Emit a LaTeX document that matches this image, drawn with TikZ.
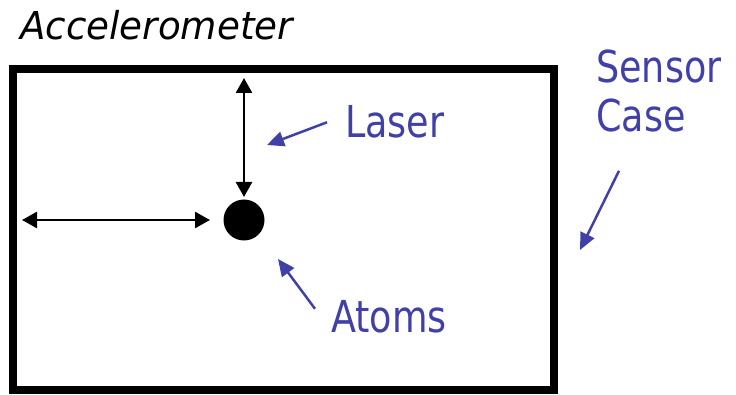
\documentclass[tikz,border=0pt]{standalone}
\usepackage{fontspec}
\setmainfont{DejaVu Sans}[FakeStretch=0.83]
\newfontfamily\headfont{DejaVu Sans}[FakeStretch=0.97]
\usetikzlibrary{arrows.meta, positioning}
\definecolor{tagblue}{RGB}{64,64,168}

\begin{document}
\begin{tikzpicture}[
    x=1pt, y=1pt,
    casebox/.style={
        rectangle, draw=black, line width=8pt,
        minimum width=541pt, minimum height=321pt,
        inner sep=0pt, outer sep=0pt,
    },
    atom/.style={
        circle, fill=black, minimum size=41pt,
        inner sep=0pt, outer sep=0pt,
    },
    tag/.style={
        font=\fontsize{44}{49}\selectfont, text=tagblue,
        inner sep=0pt, anchor=base west, align=left,
    },
    beam/.style={
        {Triangle[length=15pt, width=16pt]}-{Triangle[length=15pt, width=16pt]},
        line width=2.5pt,
    },
    pointer/.style={
        -{Triangle[length=17pt, width=15pt]}, line width=2.5pt, draw=tagblue,
        fill=tagblue,
    },
]

\useasboundingbox (0, 0) rectangle (736, 394);

% --- Sensor case and atom cloud ---
\node[casebox] (case) at (283.5, 164.5) {};
\node[atom] (atom) at (244, 174) {};

% --- Laser beams ---
\draw[beam, shorten <=9pt, shorten >=2.5pt] (case.north -| atom) -- (atom.north);
\draw[beam, shorten <=9pt, shorten >=13.5pt] (case.west |- atom) -- (atom.west);

% --- Labels ---
\node[font=\headfont\itshape\fontsize{38.4}{46}\selectfont,
      anchor=base west, inner sep=0pt] (title) at (20, 354) {Accelerometer};
\node[tag] (laser) at (345, 256) {Laser};
\node[tag] (atoms) at (331, 62) {Atoms};
\node[tag] (sensor) at (596, 262) {Sensor\\Case};

% --- Pointers ---
\coordinate (laserpt) at (267, 249);
\coordinate (atompt) at (278, 135);
\coordinate (casept) at (580, 144);
\draw[pointer] ([xshift=-18pt]laser.west) -- (laserpt);
\draw[pointer] ([shift={(-16pt,7.5pt)}]atoms.west) -- (atompt);
\draw[pointer] ([shift={(23pt,-38pt)}]sensor.south west) -- (casept);

\end{tikzpicture}
\end{document}
